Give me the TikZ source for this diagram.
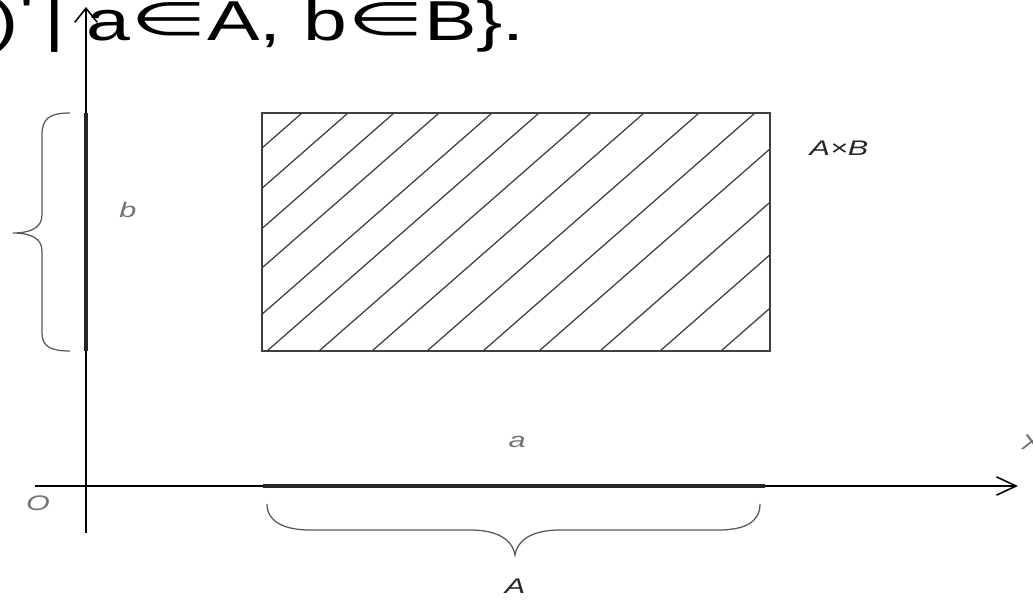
\documentclass[tikz,border=0pt]{standalone}
\usepackage{fontspec}
\setmainfont{Liberation Sans}[FakeStretch=1.45]
\newfontfamily\headfont{Liberation Sans}[FakeStretch=1.4]
\newfontfamily\headsym{DejaVu Sans}[FakeStretch=1.9]
\usetikzlibrary{arrows.meta}
\newcommand{\elt}{\raisebox{3.5pt}{\fontsize{33}{40}\selectfont\headsym ∈}}

\begin{document}
\begin{tikzpicture}[
  x=0.025cm, y=-0.025cm,
  axisline/.style={line width=1.1pt, black},
  seg/.style={line width=3pt, black!85, line cap=butt},
  brc/.style={line width=0.9pt, black!65},
  boxline/.style={line width=1.2pt, black!75},
  hatchline/.style={line width=0.9pt, black!75},
  lbl/.style={font=\fontsize{15}{18}\selectfont\itshape, text=black!55, inner sep=0pt},
  dlbl/.style={lbl, text=black!85},
  title/.style={font=\fontsize{40}{48}\selectfont\headfont, inner sep=0pt},
]
\useasboundingbox (0,0) rectangle (1033,599);

% axes
\coordinate (ybot) at (86,533);
\coordinate (ytop) at (86,7);
\coordinate (xleft) at (35,486);
\coordinate (xright) at (1018,486);
\draw[axisline, -{Straight Barb[length=10pt, width=16pt]}] (ybot) -- (ytop);
\draw[axisline, -{Straight Barb[length=14pt, width=13pt]}] (xleft) -- (xright);

% heading (cut at the left edge)
\node[title, anchor=base east] (head) at (525,40)
  {)\raisebox{5pt}{'}\hspace{0.18em}| a\elt A, b\elt B\}.};

% the product set
\coordinate (R1) at (262,113);
\coordinate (R2) at (770,351);
\begin{scope}
  \clip (R1) rectangle (R2);
  \foreach \b in {30,76,122,167,220,267,319,372,427,483,539,600,660,721}
    \draw[hatchline] (\b,351) -- ++(272,-238);
\end{scope}
\draw[boxline] (R1) rectangle (R2);

% projections on the axes
\coordinate (Bt) at (86,113);
\coordinate (Bb) at (86,351);
\coordinate (Al) at (263,486);
\coordinate (Ar) at (765,486);
\draw[seg] (Bt) -- (Bb);
\draw[seg] (Al) -- (Ar);

% braces
\draw[brc] (70,113) .. controls (50,113) and (42,118) .. (42,135) -- (42,215)
  .. controls (42,228) and (30,233) .. (13,233)
  .. controls (30,233) and (42,238) .. (42,251) -- (42,333)
  .. controls (42,346) and (50,351) .. (70,351);
\draw[brc] (267,504) .. controls (267,522) and (285,530) .. (310,530) -- (470,530)
  .. controls (495,530) and (512,538) .. (515,555)
  .. controls (518,538) and (535,530) .. (560,530) -- (718,530)
  .. controls (745,530) and (760,522) .. (760,504);

% labels
\node[lbl] (lb) at (128,210) {b};
\node[dlbl] (lAB) at (839,148) {A×B};
\node[lbl] (la) at (517,442) {a};
\node[lbl, anchor=west] (lX) at (1021,442) {X};
\node[lbl] (lO) at (38,503) {O};
\node[dlbl] (lA) at (515,586) {A};
\end{tikzpicture}
\end{document}
